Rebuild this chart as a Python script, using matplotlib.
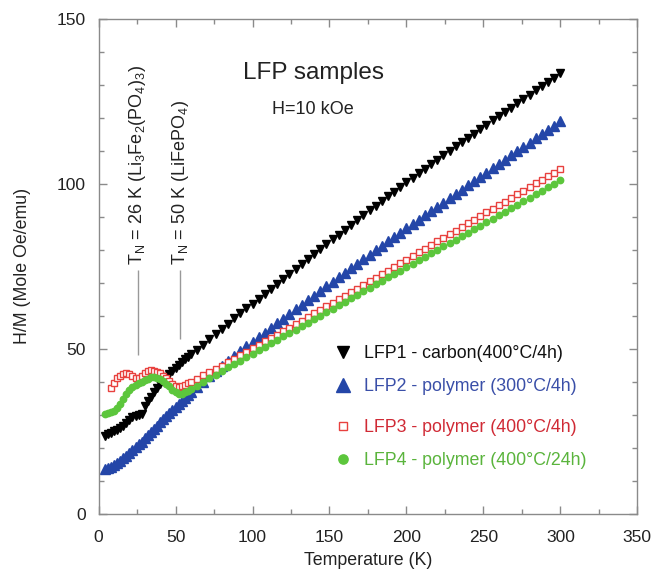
import matplotlib
matplotlib.use("Agg")
import matplotlib.pyplot as plt
from matplotlib.ticker import MultipleLocator

plt.rcParams['font.family'] = ['Liberation Sans', 'DejaVu Sans']

# ---- data ----
temps = [4, 6, 8, 10, 12, 14, 16, 18, 20, 22, 24, 26, 28, 30, 32, 34, 36, 38, 40,
         42, 44, 46, 48, 50, 52, 54, 56, 58, 60,
         64, 68, 72, 76, 80, 84, 88, 92, 96, 100, 104, 108, 112, 116, 120, 124,
         128, 132, 136, 140, 144, 148, 152, 156, 160, 164, 168, 172, 176, 180,
         184, 188, 192, 196, 200, 204, 208, 212, 216, 220, 224, 228, 232, 236,
         240, 244, 248, 252, 256, 260, 264, 268, 272, 276, 280, 284, 288, 292,
         296, 300]

lfp1 = [23.5, 24.0, 24.5, 25.0, 25.5, 26.0, 26.5, 27.5, 28.5, 29.2, 29.5, 29.8, 30.2,
        32.5, 34.0, 35.5, 36.8, 38.0, 39.2, 40.3, 41.3, 42.3, 43.3, 44.2, 45.1, 46.0,
        46.8, 47.6, 48.4,
        49.6, 51.2, 52.8, 54.4, 56.0, 57.6, 59.2, 60.7, 62.2, 63.7, 65.2, 66.7, 68.2,
        69.7, 71.2, 72.7, 74.2, 75.7, 77.2, 78.7, 80.2, 81.7, 83.2, 84.6, 86.1, 87.5,
        89.0, 90.4, 91.9, 93.3, 94.8, 96.2, 97.6, 99.0, 100.4, 101.8, 103.2, 104.5,
        105.9, 107.2, 108.6, 109.9, 111.3, 112.6, 113.9, 115.2, 116.5, 117.9, 119.2,
        120.5, 121.8, 123.1, 124.4, 125.7, 127.0, 128.3, 129.6, 130.9, 132.2, 133.5]

lfp2 = [13.6, 13.8, 14.2, 14.8, 15.4, 16.0, 16.8, 17.6, 18.5, 19.4, 20.2, 21.0, 21.8,
        22.8, 23.8, 24.8, 25.8, 26.7, 27.7, 28.7, 29.7, 30.6, 31.5, 32.4, 33.3, 34.1,
        35.0, 35.9, 36.8,
        38.4, 40.0, 41.6, 43.2, 44.8, 46.3, 47.8, 49.3, 50.7, 52.1, 53.5, 54.9, 56.3,
        57.7, 59.1, 60.5, 61.9, 63.3, 64.7, 66.1, 67.5, 68.9, 70.2, 71.6, 73.0, 74.4,
        75.7, 77.1, 78.5, 79.8, 81.2, 82.5, 83.9, 85.2, 86.5, 87.8, 89.1, 90.4, 91.7,
        93.0, 94.3, 95.6, 96.9, 98.2, 99.5, 100.8, 102.1, 103.4, 104.7, 106.0, 107.3,
        108.6, 109.9, 111.2, 112.5, 113.8, 115.1, 116.4, 117.6, 118.9]

temps3 = temps[2:]
lfp3 = [38.0, 39.5, 41.0, 41.8, 42.3, 42.5, 42.2, 41.7, 41.2, 41.2, 41.8, 42.6,
        43.2, 43.4, 43.3, 43.0, 42.5, 41.8, 41.0, 40.2, 39.4, 38.8, 38.5, 38.6, 39.0,
        39.5, 40.0,
        40.9, 41.9, 42.9, 43.9, 44.9, 45.9, 46.9, 48.0, 49.0, 50.1, 51.1, 52.2, 53.2,
        54.3, 55.3, 56.4, 57.5, 58.5, 59.6, 60.7, 61.7, 62.8, 63.9, 65.0, 66.0, 67.1,
        68.2, 69.3, 70.4, 71.5, 72.6, 73.7, 74.8, 75.9, 77.0, 78.1, 79.2, 80.3, 81.4,
        82.5, 83.6, 84.7, 85.8, 86.9, 88.0, 89.1, 90.2, 91.3, 92.4, 93.5, 94.6, 95.7,
        96.8, 97.9, 99.0, 100.1, 101.2, 102.3, 103.4, 104.4]

lfp4 = [30.2, 30.5, 30.8, 31.2, 32.0, 33.2, 34.8, 36.3, 37.5, 38.3, 39.0, 39.5, 39.9,
        40.4, 40.9, 41.3, 41.4, 41.2, 40.8, 40.2, 39.4, 38.6, 37.6, 36.8, 36.3, 36.4,
        36.8, 37.2, 37.7,
        38.8, 39.9, 41.0, 42.1, 43.2, 44.3, 45.3, 46.4, 47.4, 48.5, 49.5, 50.6, 51.6,
        52.7, 53.7, 54.8, 55.8, 56.9, 57.9, 59.0, 60.0, 61.1, 62.1, 63.2, 64.2, 65.3,
        66.3, 67.4, 68.4, 69.5, 70.5, 71.6, 72.6, 73.7, 74.7, 75.8, 76.8, 77.9, 78.9,
        80.0, 81.0, 82.1, 83.1, 84.2, 85.2, 86.3, 87.3, 88.4, 89.4, 90.5, 91.5, 92.6,
        93.6, 94.7, 95.7, 96.8, 97.8, 98.9, 99.9, 101.0]

labels = ["LFP1 - carbon(400°C/4h)", "LFP2 - polymer (300°C/4h)",
          "LFP3 - polymer (400°C/4h)", "LFP4 - polymer (400°C/24h)"]

tn_temps = [25.5, 53]
tn_line_lo = [48, 53]
tn_line_hi = [74, 74]
tn_labels = [r"T$_\mathregular{N}$ = 26 K (Li$_\mathregular{3}$Fe$_\mathregular{2}$(PO$_\mathregular{4}$)$_\mathregular{3}$)",
             r"T$_\mathregular{N}$ = 50 K (LiFePO$_\mathregular{4}$)"]

# ---- figure ----
fig = plt.figure(figsize=(6.53, 5.71), dpi=100)
ax = fig.add_axes([0.151, 0.1005, 0.825, 0.8665])

c_black = "#000000"
c_blue = "#2446a8"
c_red = "#e8413e"
c_green = "#5cc63c"

h1, = ax.plot(temps, lfp1, linestyle='none', marker='v', ms=6.3, color=c_black, label=labels[0])
h2, = ax.plot(temps, lfp2, linestyle='none', marker='^', ms=6.7, color=c_blue, label=labels[1])
h3, = ax.plot(temps3, lfp3, linestyle='none', marker='s', ms=4.3, mfc='white', mec=c_red,
              mew=1.0, label=labels[2])
h4, = ax.plot(temps, lfp4, linestyle='none', marker='o', ms=4.6, color=c_green, label=labels[3])

ax.set_xlim(0, 350)
ax.set_ylim(0, 150)
ax.xaxis.set_major_locator(MultipleLocator(50))
ax.xaxis.set_minor_locator(MultipleLocator(25))
ax.yaxis.set_major_locator(MultipleLocator(50))
ax.yaxis.set_minor_locator(MultipleLocator(10))

spine_c = "#8a8a8a"
for s in ax.spines.values():
    s.set_color(spine_c)
    s.set_linewidth(1.0)
ax.tick_params(which='both', direction='in', top=True, right=True, color=spine_c,
               labelsize=12.6, labelcolor='#222222')
ax.tick_params(which='major', length=6, width=1)
ax.tick_params(which='minor', length=3.5, width=1)
ax.tick_params(axis='x', pad=12)
ax.tick_params(axis='y', pad=9)

ax.set_xlabel("Temperature (K)", fontsize=12.8, color='#222222', labelpad=5)
ax.set_ylabel("H/M (Mole Oe/emu)", fontsize=12.8, color='#222222', labelpad=19)

ax.text(0.399, 0.891, "LFP samples", transform=ax.transAxes, fontsize=17.5,
        color='#222222', ha='center', va='center')
ax.text(0.397, 0.817, "H=10 kOe", transform=ax.transAxes, fontsize=13,
        color='#222222', ha='center', va='center')

# T_N marker lines & labels
for t, lo, hi, lab in zip(tn_temps, tn_line_lo, tn_line_hi, tn_labels):
    ax.vlines(t, lo, hi, color='#999999', lw=1)
    ax.text(t, hi + 1.5, lab, rotation=90, fontsize=13, color='#222222',
            ha='center', va='bottom')

leg_kw = dict(loc='upper left', frameon=False, fontsize=12.8, handlelength=1.0,
              handletextpad=0.7, labelspacing=0.9, borderaxespad=0, markerscale=1.45)
leg1 = ax.legend(handles=[h1, h2], bbox_to_anchor=(0.424, 0.355), **leg_kw)
for txt, c in zip(leg1.get_texts(), ["#111111", "#3a4fa8"]):
    txt.set_color(c)
ax.add_artist(leg1)
leg2 = ax.legend(handles=[h3, h4], bbox_to_anchor=(0.424, 0.205), **leg_kw)
for txt, c in zip(leg2.get_texts(), ["#d02a35", "#5ab43c"]):
    txt.set_color(c)

fig.savefig("out.png", dpi=100)
